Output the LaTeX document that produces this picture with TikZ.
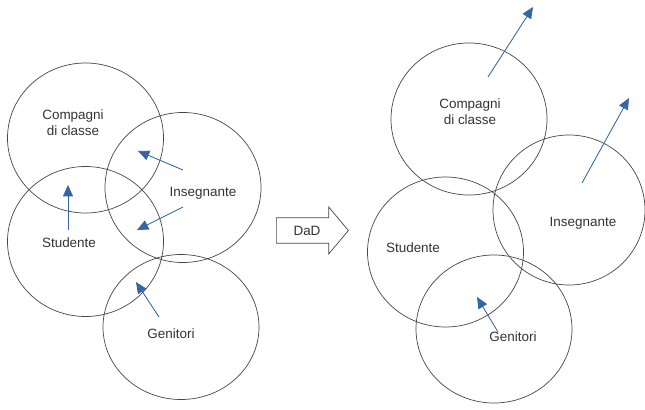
\documentclass[tikz,border=0pt]{standalone}
\usepackage{fontspec}
\setmainfont{Liberation Sans}
\usepackage{tikz}
\usetikzlibrary{shapes.geometric, shapes.arrows, arrows.meta}
\definecolor{ringgray}{RGB}{70,70,70}
\definecolor{arrblue}{RGB}{52,101,164}
\tikzset{
  ring/.style={draw=ringgray, line width=0.6pt, ellipse, inner sep=0pt,
    minimum width=46.8mm, minimum height=45mm},
  lbl/.style={align=center, text=black!80, font=\fontsize{11.5}{13.5}\selectfont},
  arr/.style={-{Triangle[length=3.4mm, width=3mm]}, line width=0.7pt, draw=arrblue, fill=arrblue},
}
\begin{document}
\begin{tikzpicture}[x=0.3mm, y=-0.3mm]
  \useasboundingbox (0,0) rectangle (645,409);
  % before
  \node[ring] (compA) at (85.5,138) {};
  \node[ring] (insA) at (183,187.5) {};
  \node[ring] (stuA) at (85.5,241.5) {};
  \node[ring, minimum height=43.5mm] (genA) at (181,327) {};
  \node[lbl] (compAt) at (73,123) {Compagni\\di classe};
  \node[lbl] (insAt) at (203,193) {Insegnante};
  \node[lbl] (stuAt) at (69,243) {Studente};
  \node[lbl] (genAt) at (171,334) {Genitori};
  \coordinate (a1) at (183,170);  \coordinate (b1) at (138,151);
  \coordinate (a2) at (183,207);  \coordinate (b2) at (137,230);
  \coordinate (a3) at (68,230);   \coordinate (b3) at (68,185);
  \coordinate (a4) at (159,317);  \coordinate (b4) at (136,282);
  \draw[arr] (a1) -- (b1);
  \draw[arr] (a2) -- (b2);
  \draw[arr] (a3) -- (b3);
  \draw[arr] (a4) -- (b4);
  % DaD
  \node[single arrow, draw=ringgray, line width=0.6pt, lbl, text height=8.5pt, text depth=0pt,
    inner ysep=6.4pt, inner xsep=6pt, minimum height=21.6mm,
    single arrow head extend=3.15mm, single arrow tip angle=100] (dad) at (307,230.5) {DaD};
  % after
  \node[ring, minimum height=45.6mm] (compB) at (469,119) {};
  \node[ring, minimum width=45.6mm] (insB) at (569,210) {};
  \node[ring] (stuB) at (445.5,252) {};
  \node[ring, minimum height=44.4mm] (genB) at (494,329) {};
  \node[lbl] (compBt) at (470,112) {Compagni\\di classe};
  \node[lbl] (insBt) at (583,223) {Insegnante};
  \node[lbl] (stuBt) at (413,248) {Studente};
  \node[lbl] (genBt) at (513,337) {Genitori};
  \coordinate (c1) at (488,77);   \coordinate (d1) at (533,7);
  \coordinate (c2) at (582,183);  \coordinate (d2) at (629,98);
  \coordinate (c3) at (498,332);  \coordinate (d3) at (477,297);
  \draw[arr] (c1) -- (d1);
  \draw[arr] (c2) -- (d2);
  \draw[arr] (c3) -- (d3);
\end{tikzpicture}
\end{document}
